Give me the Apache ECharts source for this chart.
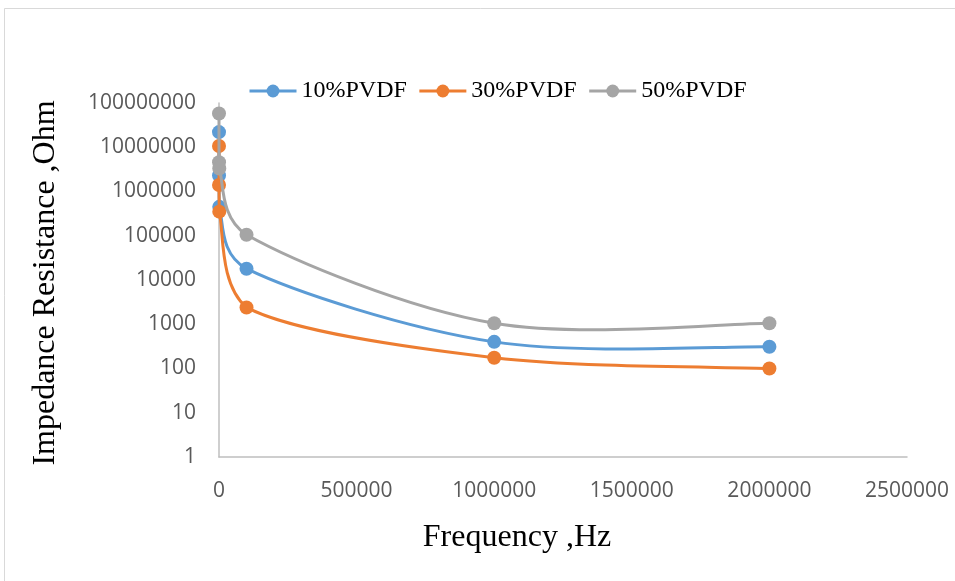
<!DOCTYPE html>
<html>
<head>
<meta charset="utf-8">
<script src="https://cdn.jsdelivr.net/npm/echarts@6/dist/echarts.min.js"></script>
<style>
  html, body { margin: 0; padding: 0; background: #ffffff; }
  #chart { width: 955px; height: 581px; }
</style>
</head>
<body>
<div id="chart"></div>
<script>
// Measurement frequencies (Hz)
const frequency = [10, 100, 1000, 100000, 1000000, 2000000];

// Impedance resistance (Ohm) per PVDF content
const pvdf10 = [22000000, 2300000, 450000, 18000, 400, 310];
const pvdf30 = [10700000, 1400000, 350000, 2400, 175, 100];
const pvdf50 = [58000000, 4600000, 3300000, 105000, 1050, 1050];

const seriesNames = ['10%PVDF', '30%PVDF', '50%PVDF'];
const seriesValues = [pvdf10, pvdf30, pvdf50];
const seriesColors = ['#5B9BD5', '#ED7D31', '#A5A5A5'];

const xTicks = [0, 500000, 1000000, 1500000, 2000000, 2500000];
const yTicks = [1, 10, 100, 1000, 10000, 100000, 1000000, 10000000, 100000000];

const pairs = (ys) => frequency.map((f, i) => [f, ys[i]]);

const tickFont = '"Open Sans", "Liberation Sans", sans-serif';
const titleFont = '"Liberation Serif", "DejaVu Serif", serif';

// Smoothed curve through the projected points: cubic Bezier segments with
// Catmull-Rom style tangents (1/6 of the neighbour chord), each control arm
// capped at half the segment length and kept inside the segment's x-range.
function smoothSegments(pts) {
  const n = pts.length;
  const dist = (a, b) => Math.hypot(b[0] - a[0], b[1] - a[1]);
  const segs = [];
  for (let i = 0; i < n - 1; i++) {
    const p0 = pts[Math.max(i - 1, 0)];
    const p1 = pts[i];
    const p2 = pts[i + 1];
    const p3 = pts[Math.min(i + 2, n - 1)];
    const half = dist(p1, p2) / 2;
    const arm = (a, b) => {
      const d = dist(a, b);
      if (d === 0) return [0, 0];
      const len = Math.min(d / 6, half);
      return [(b[0] - a[0]) / d * len, (b[1] - a[1]) / d * len];
    };
    const xmin = Math.min(p1[0], p2[0]);
    const xmax = Math.max(p1[0], p2[0]);
    const clampX = (x) => Math.max(xmin, Math.min(xmax, x));
    const t1 = arm(p0, p2);
    const t2 = arm(p1, p3);
    segs.push({
      x1: p1[0], y1: p1[1],
      cpx1: clampX(p1[0] + t1[0]), cpy1: p1[1] + t1[1],
      cpx2: clampX(p2[0] - t2[0]), cpy2: p2[1] - t2[1],
      x2: p2[0], y2: p2[1]
    });
  }
  return segs;
}

const chart = echarts.init(document.getElementById('chart'), null, { renderer: 'canvas' });

const series = [];
seriesNames.forEach((name, k) => {
  const color = seriesColors[k];
  const data = pairs(seriesValues[k]);
  // smoothed connecting line
  series.push({
    name: name + ' line',
    type: 'custom',
    data: data,
    z: 2 + 2 * k,
    silent: true,
    renderItem: (params, api) => {
      if (params.dataIndex !== 0) return null;
      const pts = data.map((d) => api.coord(d));
      return {
        type: 'group',
        children: smoothSegments(pts).map((s) => ({
          type: 'bezierCurve',
          shape: s,
          style: { stroke: color, lineWidth: 3, fill: null, lineCap: 'round' }
        }))
      };
    }
  });
  // markers
  series.push({
    name: name,
    type: 'line',
    data: data,
    z: 3 + 2 * k,
    symbol: 'circle',
    symbolSize: 14,
    showSymbol: true,
    lineStyle: { color: color, width: 3, opacity: 0 },
    itemStyle: { color: color },
    emphasis: { disabled: true }
  });
});

chart.setOption({
  animation: false,
  backgroundColor: '#ffffff',
  graphic: [
    {
      type: 'rect',
      shape: { x: 4.5, y: 8.5, width: 1200, height: 1200 },
      style: { fill: 'none', stroke: '#d9d9d9', lineWidth: 1 },
      silent: true
    },
    {
      type: 'text',
      x: 517, y: 538,
      style: {
        text: 'Frequency ,Hz',
        font: '32px ' + titleFont,
        fill: '#000000',
        textAlign: 'center',
        textVerticalAlign: 'middle'
      },
      silent: true
    },
    {
      type: 'text',
      x: 46, y: 283,
      rotation: Math.PI / 2,
      style: {
        text: 'Impedance Resistance ,Ohm',
        font: '32px ' + titleFont,
        fill: '#000000',
        textAlign: 'center',
        textVerticalAlign: 'middle'
      },
      silent: true
    }
  ],
  legend: {
    data: seriesNames.map((n, k) => ({
      name: n,
      lineStyle: { color: seriesColors[k], width: 3, opacity: 1 }
    })),
    left: 243,
    top: 74,
    itemWidth: 47,
    itemHeight: 16,
    itemGap: 11,
    textStyle: { fontFamily: titleFont, fontSize: 24, color: '#000000' }
  },
  grid: { left: 219, right: 48, top: 103, bottom: 124, containLabel: false },
  xAxis: {
    type: 'value',
    min: xTicks[0],
    max: xTicks[xTicks.length - 1],
    interval: xTicks[1] - xTicks[0],
    axisLine: { show: true, lineStyle: { color: '#bfbfbf', width: 1.5 } },
    axisTick: { show: false },
    splitLine: { show: false },
    axisLabel: {
      margin: 24,
      fontFamily: tickFont,
      fontSize: 21,
      color: '#595959',
      formatter: (v) => String(Math.round(v))
    }
  },
  yAxis: {
    type: 'log',
    logBase: 10,
    min: yTicks[0],
    max: yTicks[yTicks.length - 1],
    axisLine: { show: true, lineStyle: { color: '#bfbfbf', width: 1.5 } },
    axisTick: { show: false },
    splitLine: { show: false },
    axisLabel: {
      margin: 23,
      fontFamily: tickFont,
      fontSize: 21,
      color: '#595959',
      formatter: (v) => String(Math.round(v))
    }
  },
  series: series
});
</script>
</body>
</html>
